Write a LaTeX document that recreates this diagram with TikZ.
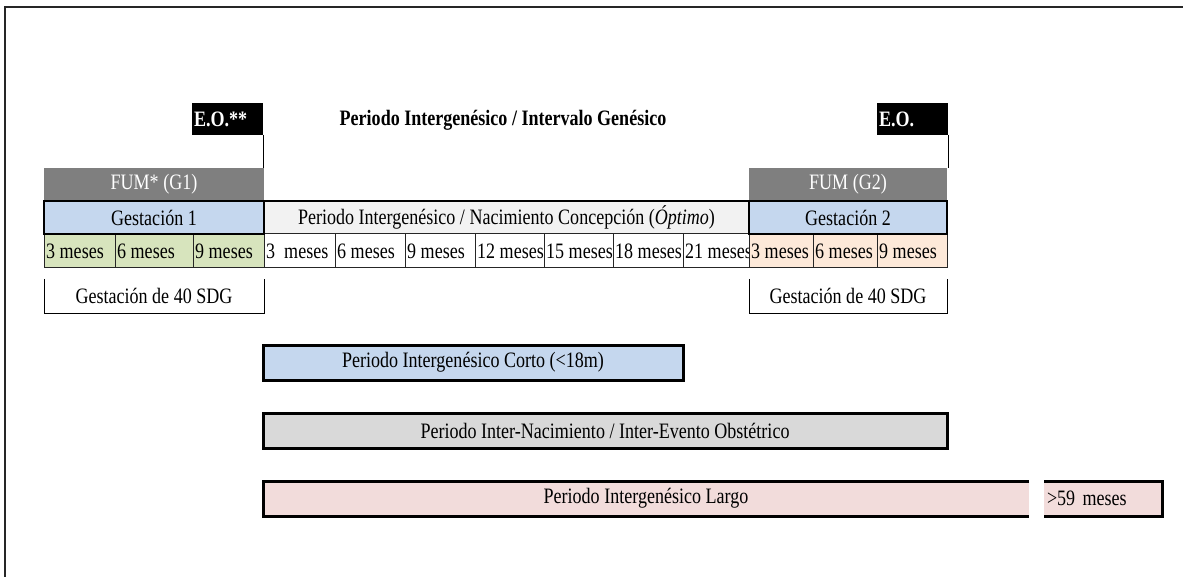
\documentclass[tikz,border=0pt]{standalone}
\usepackage{fontspec}
\setmainfont[FakeStretch=0.82]{Liberation Serif}
\definecolor{azul}{HTML}{C5D7EE}
\definecolor{verde}{HTML}{D7E4BD}
\definecolor{durazno}{HTML}{FDE9D9}
\definecolor{rosa}{HTML}{F2DCDB}
\definecolor{gris}{HTML}{7F7F7F}
\definecolor{grisclaro}{HTML}{D9D9D9}
\definecolor{humo}{HTML}{F2F2F2}

\begin{document}
\fontsize{22}{26}\selectfont
\begin{tikzpicture}[x=1pt,y=-1pt,
  caja/.style={inner sep=0pt,outer sep=0pt,anchor=north west},
  eo/.style={caja,fill=black,text=white,font=\bfseries,text width=67pt,align=left,inner xsep=2pt,minimum height=32},
  fum/.style={caja,fill=gris,text=white,minimum height=33},
  gest/.style={caja,fill=azul,draw=black,line width=2.5pt,minimum height=33},
  mes/.style={caja,draw=black!85,line width=1pt,minimum height=34},
  barra/.style={caja,line width=3pt,minimum height=35}]

\useasboundingbox (0,0) rectangle (1183,577);

\def\grueso{3pt}

% marco
\draw[line width=1.5pt,black!85] (5,577) -- (5,7) -- (1183,7);

\node[font=\bfseries] (titulo) at (503,120) {Periodo Intergenésico / Intervalo Genésico};

% eventos obstetricos
\node[eo] (eoA) at (192,103) {E.O.**};
\node[eo] (eoB) at (877,103) {E.O.};

\node[fum,minimum width=220] (fumA) at (44,168) {FUM* (G1)};
\node[fum,minimum width=198] (fumB) at (749,168) {FUM (G2)};

\draw[line width=0.8pt] (eoA.south east) -- (eoA.south east |- fumA.north);
\draw[line width=0.8pt] (eoB.south east) -- (eoB.south east |- fumB.north);

% meses
\foreach \x/\w/\c/\t [count=\i] in {44/71/verde/3 meses,115/78/verde/6 meses,193/71/verde/9 meses,
  264/71/white/3~~meses,335/70/white/6 meses,405/70/white/9 meses,475/69/white/12 meses,
  544/69/white/15 meses,613/70/white/18 meses,683/66/white/21 meses,
  749/64/durazno/3 meses,813/64/durazno/6 meses,877/70/durazno/9 meses}{
  \node[mes,fill=\c,minimum width=\w] (m\i) at (\x,234) {};
  \node[anchor=west,inner sep=0pt] (t\i) at ([xshift=2pt]m\i.west) {\t};
}

% gestaciones
\node[caja,fill=humo,draw=black!85,line width=1pt,minimum width=485,minimum height=33] (inter) at (264,201)
  {Periodo Intergenésico / Nacimiento Concepción (\textit{Óptimo})};
\draw[line width=2.5pt] (inter.north west) -- (inter.north east);
\node[gest,minimum width=220] (gestA) at (44,201) {Gestación 1};
\node[gest,minimum width=198] (gestB) at (749,201) {Gestación 2};

\node[caja,minimum width=220,minimum height=34] (sdgA) at (44,279) {Gestación de 40 SDG};
\node[caja,minimum width=198,minimum height=34] (sdgB) at (749,279) {Gestación de 40 SDG};
\draw[line width=0.8pt] (sdgA.north west) -- (sdgA.south west) -- (sdgA.south east) -- (sdgA.north east);
\draw[line width=0.8pt] (sdgB.north west) -- (sdgB.south west) -- (sdgB.south east) -- (sdgB.north east);

% periodos
\node[barra,fill=azul,draw=black,minimum width=420] (corto) at (263,345) {Periodo Intergenésico Corto (<18m)};
\node[barra,fill=grisclaro,draw=black,minimum width=684] (nacim) at (263,413) {Periodo Inter-Nacimiento / Inter-Evento Obstétrico};
\node[barra,fill=rosa,minimum width=766] (largo) at (263,481) {Periodo Intergenésico Largo};
\draw[line width=\grueso] (largo.north east) -- (largo.north west) -- (largo.south west) -- (largo.south east);
\node[barra,fill=rosa,text width=112pt,align=left,inner xsep=3pt] (mas) at (1044,481) {>59 meses};
\draw[line width=\grueso] (mas.north west) -- (mas.north east) -- (mas.south east) -- (mas.south west);

\end{tikzpicture}
\end{document}
